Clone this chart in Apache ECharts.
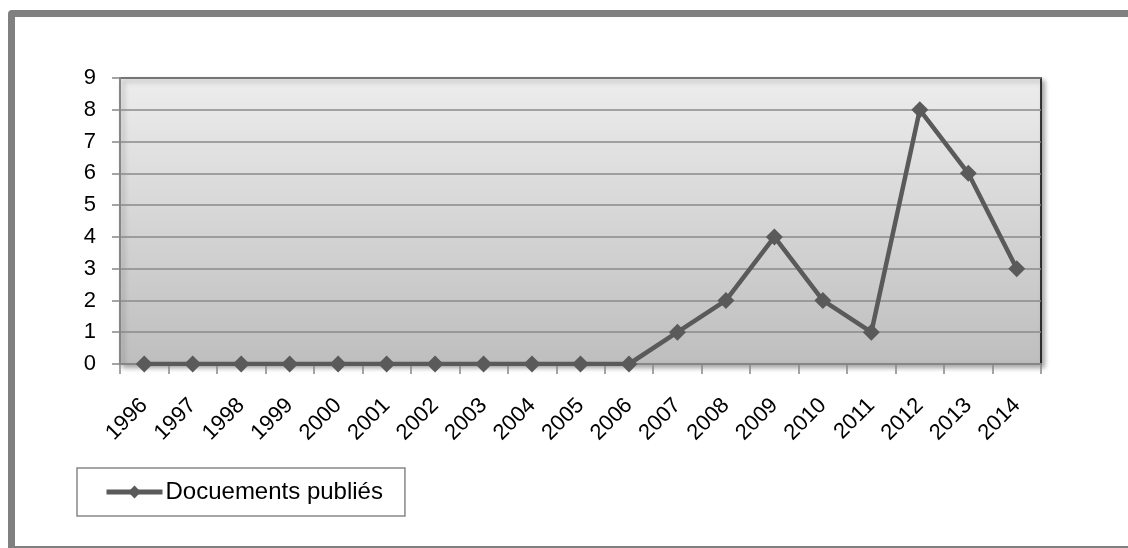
<!DOCTYPE html>
<html>
<head>
<meta charset="utf-8">
<script src="https://cdn.jsdelivr.net/npm/echarts@6/dist/echarts.min.js"></script>
<style>
  html, body { margin: 0; padding: 0; background: #fff; }
  #frame { position: absolute; left: 8px; top: 10px; width: 1140px; height: 529px; border: 7px solid #808080; border-radius: 4px; }
  #main { position: absolute; left: 0; top: 0; width: 1128px; height: 548px; }
</style>
</head>
<body>
<div id="frame"></div>
<div id="main"></div>
<script>
// données
const years = ['1996','1997','1998','1999','2000','2001','2002','2003','2004','2005',
               '2006','2007','2008','2009','2010','2011','2012','2013','2014']
const docs = [0,0,0,0,0,0,0,0,0,0,0,1,2,4,2,1,8,6,3]
const seriesName = 'Docuements publiés'

const font = 'Liberation Sans, Arial, sans-serif'

let myChart = echarts.init(document.getElementById('main'))
let option = {
    animation: false,
    backgroundColor: 'transparent',
    grid: {
        left: 120, right: 87, top: 78, bottom: 184,
        show: true,
        borderColor: '#000',
        borderWidth: 1.5,
        backgroundColor: new echarts.graphic.LinearGradient(0, 0, 0, 1, [
            {offset: 0, color: '#ededed'},
            {offset: 1, color: '#bebebe'}
        ]),
        shadowColor: 'rgba(0,0,0,0.35)',
        shadowBlur: 5,
        shadowOffsetX: 3,
        shadowOffsetY: 3
    },
    legend: {
        left: 77, top: 468,
        orient: 'horizontal',
        data: [seriesName],
        borderColor: '#888',
        borderWidth: 1.5,
        padding: [12, 22, 12, 27],
        itemWidth: 56,
        itemHeight: 16,
        itemGap: 0,
        lineStyle: { width: 5, color: '#5a5a5a' },
        itemStyle: { color: '#5a5a5a' },
        textStyle: { fontFamily: font, fontSize: 24, color: '#000', padding: [0, 0, 0, -2] }
    },
    xAxis: {
        type: 'category',
        data: years,
        boundaryGap: true,
        axisLine: { lineStyle: { color: '#868686', width: 2 } },
        axisTick: { show: true, inside: false, length: 10, lineStyle: { color: '#868686', width: 1.5 } },
        axisLabel: { rotate: 45, margin: 38, fontFamily: font, fontSize: 22, color: '#000', interval: 0 },
        splitLine: { show: false }
    },
    yAxis: {
        type: 'value',
        min: 0, max: 9, interval: 1,
        axisLine: { show: true, lineStyle: { color: '#868686', width: 2 } },
        axisTick: { show: true, inside: false, length: 8, lineStyle: { color: '#868686', width: 1.5 } },
        axisLabel: { margin: 24, fontFamily: font, fontSize: 22, color: '#000' },
        splitLine: { show: true, lineStyle: { color: '#8a8a8a', width: 1.5 } }
    },
    series: [
        {
            name: seriesName,
            type: 'line',
            data: docs,
            symbol: 'diamond',
            symbolSize: 17,
            showAllSymbol: true,
            lineStyle: { color: '#5a5a5a', width: 4.5 },
            itemStyle: { color: '#5a5a5a' }
        }
    ]
}
myChart.setOption(option)
</script>
</body>
</html>
